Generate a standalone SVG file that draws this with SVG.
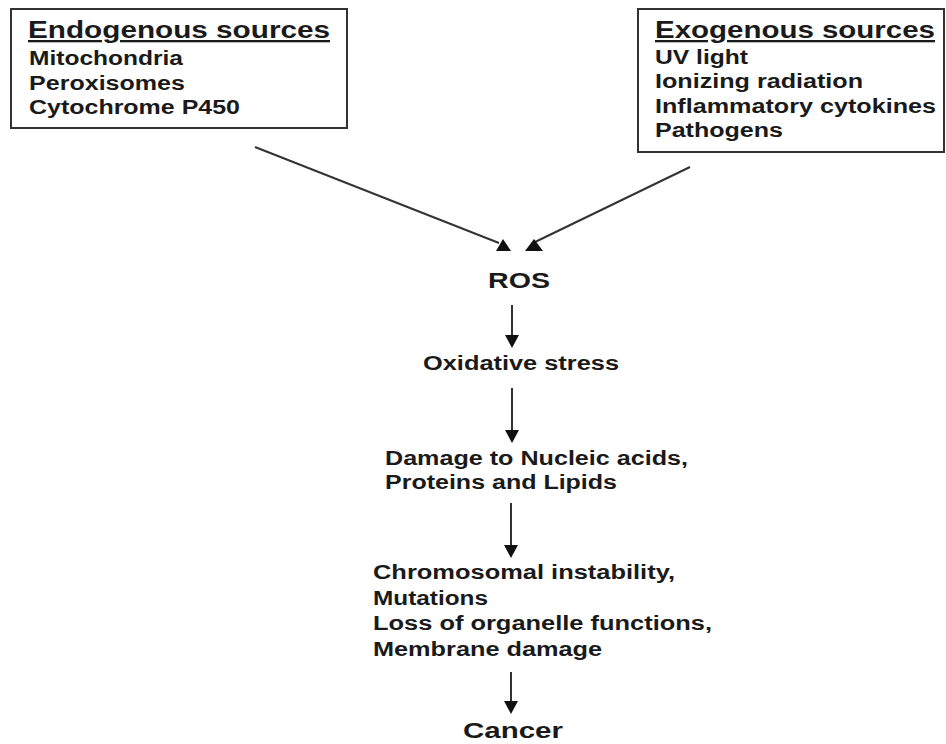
<svg xmlns="http://www.w3.org/2000/svg" width="946" height="744" viewBox="0 0 946 744">
<style>
.t{font-family:"Liberation Sans",Arial,sans-serif;font-weight:bold;fill:#1a1a1a}
.h{font-size:23px;text-decoration:underline}
.i{font-size:20px}
.c{font-size:20px}
.box{fill:#fff;stroke:#333;stroke-width:2}
.ln{stroke:#333;stroke-width:2;fill:none}
.ah{fill:#111}
</style>
<rect width="946" height="744" fill="#fff"/>
<g id="endogenous">
<rect class="box" x="11" y="9" width="336" height="119"/>
<text class="t h" x="28" y="38" textLength="302" lengthAdjust="spacingAndGlyphs">Endogenous sources</text>
<text class="t i" x="29" y="65" textLength="154" lengthAdjust="spacingAndGlyphs">Mitochondria</text>
<text class="t i" x="29" y="90" textLength="156" lengthAdjust="spacingAndGlyphs">Peroxisomes</text>
<text class="t i" x="29" y="114" textLength="211" lengthAdjust="spacingAndGlyphs">Cytochrome P450</text>
</g>
<g id="exogenous">
<rect class="box" x="638" y="9" width="306" height="143"/>
<text class="t h" x="655" y="38" textLength="280" lengthAdjust="spacingAndGlyphs">Exogenous sources</text>
<text class="t i" x="655" y="64" textLength="93" lengthAdjust="spacingAndGlyphs">UV light</text>
<text class="t i" x="655" y="88" textLength="208" lengthAdjust="spacingAndGlyphs">Ionizing radiation</text>
<text class="t i" x="655" y="113" textLength="281" lengthAdjust="spacingAndGlyphs">Inflammatory cytokines</text>
<text class="t i" x="655" y="137" textLength="128" lengthAdjust="spacingAndGlyphs">Pathogens</text>
</g>
<g id="ros">
<text class="t" font-size="22" x="488" y="288" textLength="62" lengthAdjust="spacingAndGlyphs">ROS</text>
</g>
<g id="oxidative">
<text class="t c" x="423" y="370" textLength="196" lengthAdjust="spacingAndGlyphs">Oxidative stress</text>
</g>
<g id="damage">
<text class="t c" x="385" y="465" textLength="303" lengthAdjust="spacingAndGlyphs">Damage to Nucleic acids,</text>
<text class="t c" x="385" y="489" textLength="232" lengthAdjust="spacingAndGlyphs">Proteins and Lipids</text>
</g>
<g id="effects">
<text class="t c" x="373" y="579" textLength="302" lengthAdjust="spacingAndGlyphs">Chromosomal instability,</text>
<text class="t c" x="373" y="605" textLength="115" lengthAdjust="spacingAndGlyphs">Mutations</text>
<text class="t c" x="373" y="630" textLength="339" lengthAdjust="spacingAndGlyphs">Loss of organelle functions,</text>
<text class="t c" x="373" y="656" textLength="229" lengthAdjust="spacingAndGlyphs">Membrane damage</text>
</g>
<g id="cancer">
<text class="t" font-size="22" x="463" y="738" textLength="100" lengthAdjust="spacingAndGlyphs">Cancer</text>
</g>
<g id="connectors">
<line class="ln" x1="255" y1="147" x2="499" y2="243"/>
<polygon class="ah" points="503,239 496,251 511,251"/>
<line class="ln" x1="690" y1="167" x2="533" y2="243"/>
<polygon class="ah" points="534,239 525,251 543,251"/>
<line class="ln" x1="512" y1="305" x2="512" y2="337"/>
<polygon class="ah" points="505,335 519,335 512,348"/>
<line class="ln" x1="512" y1="388" x2="512" y2="432"/>
<polygon class="ah" points="505,430 519,430 512,443"/>
<line class="ln" x1="511" y1="503" x2="511" y2="547"/>
<polygon class="ah" points="504,545 518,545 511,558"/>
<line class="ln" x1="511" y1="672" x2="511" y2="703"/>
<polygon class="ah" points="504,701 518,701 511,714"/>
</g>
</svg>
